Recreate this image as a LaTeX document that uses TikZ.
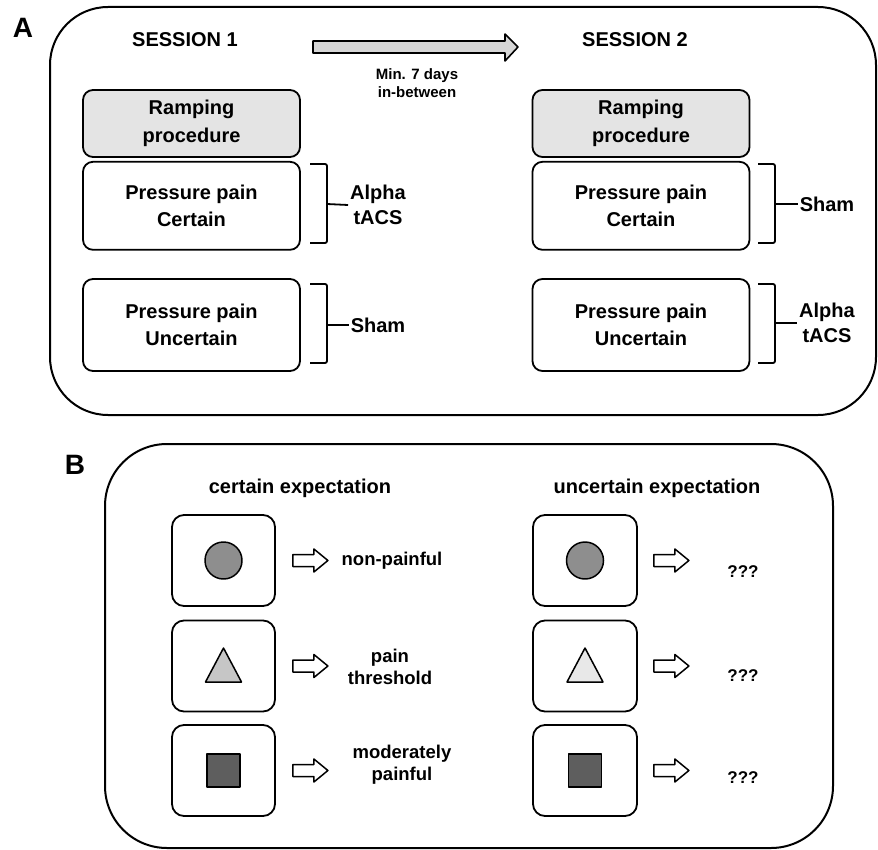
\documentclass[tikz,border=0pt]{standalone}
\usepackage{fontspec}
\setmainfont{Liberation Sans}
\usetikzlibrary{positioning}

\definecolor{rampgray}{HTML}{E4E4E4}
\definecolor{arrowgray}{HTML}{D6D6D6}
\definecolor{circgray}{HTML}{8E8E8E}
\definecolor{trigrayA}{HTML}{C6C6C6}
\definecolor{trigrayB}{HTML}{E8E8E8}
\definecolor{sqgray}{HTML}{5E5E5E}

\begin{document}
\begin{tikzpicture}[x=1pt, y=-1pt, line join=round,
    every node/.style={font=\bfseries},
    panel/.style={draw, line width=2pt, rounded corners=58pt},
    block/.style={draw, line width=1.8pt, rounded corners=10pt, minimum width=217pt,
      align=center, font=\fontsize{20}{27.5}\selectfont\bfseries},
    brk/.style={line width=1.8pt, rounded corners=2pt},
    blab/.style={align=center, inner sep=2pt, font=\fontsize{20}{25}\selectfont\bfseries},
    cue/.style={draw, line width=1.8pt, rounded corners=12pt, minimum width=103pt, minimum height=91pt},
    outc/.style={align=center, font=\fontsize{18.5}{22.5}\selectfont\bfseries},
    wharrow/.pic={\draw[line width=1.5pt, fill=white] (0,-6) -- (21,-6) -- (21,-11.5) -- (35,0)
      -- (21,11.5) -- (21,6) -- (0,6) -- cycle;}]
  \useasboundingbox (0,0) rectangle (878,850);

  % panel A
  \draw[panel] (50,7) rectangle (876,415);
  \node[font=\fontsize{28}{30}\selectfont\bfseries] (labA) at (23,28) {A};
  \node[font=\fontsize{20}{24}\selectfont\bfseries] (s1) at (185,40) {SESSION 1};
  \node[font=\fontsize{20}{24}\selectfont\bfseries] (s2) at (635,40) {SESSION 2};
  \draw[line width=1.6pt, fill=arrowgray] (313,41) -- (505,41) -- (505,34) -- (518,47)
    -- (505,61) -- (505,53) -- (313,53) -- cycle;
  \node[align=center, font=\fontsize{15}{18}\selectfont\bfseries] (gap) at (417,83) {Min. 7 days\\in-between};

  % session 1
  \node[block, fill=rampgray, minimum height=67pt] (ramp1) at (191.5,123.5) {Ramping\\procedure};
  \node[block, minimum height=88pt, below=3pt of ramp1] (cert1) {Pressure pain\\Certain};
  \node[block, minimum height=92pt] (unc1) at (191.5,325) {Pressure pain\\Uncertain};
  % session 2
  \node[block, fill=rampgray, minimum height=67pt] (ramp2) at (641,123.5) {Ramping\\procedure};
  \node[block, minimum height=88pt, below=3pt of ramp2] (cert2) {Pressure pain\\Certain};
  \node[block, minimum height=92pt] (unc2) at (641,325) {Pressure pain\\Uncertain};

  % braces
  \node[blab] (a1) at (378,205) {Alpha\\tACS};
  \node[blab] (sh1) at (378,325) {Sham};
  \node[blab] (sh2) at (827,204) {Sham};
  \node[blab] (a2) at (827,323) {Alpha\\tACS};
  \draw[brk] (310,164) -- (327,164) -- (327,243) -- (310,243);
  \draw[brk] (327,204) -- (a1.west);
  \draw[brk] (310,284) -- (327,284) -- (327,363) -- (310,363);
  \draw[brk] (327,325) -- (sh1.west);
  \draw[brk] (758,164) -- (775,164) -- (775,243) -- (758,243);
  \draw[brk] (775,204) -- (sh2.west);
  \draw[brk] (758,284) -- (775,284) -- (775,363) -- (758,363);
  \draw[brk] (775,323) -- (a2.west);

  % panel B
  \draw[panel, rounded corners=62pt] (105,444) rectangle (833,848);
  \node[font=\fontsize{28}{30}\selectfont\bfseries] (labB) at (75,465) {B};
  \node[font=\fontsize{20}{24}\selectfont\bfseries] (hc) at (300,488) {certain expectation};
  \node[font=\fontsize{20}{24}\selectfont\bfseries] (hu) at (657,488) {uncertain expectation};

  \foreach \n/\y in {1/560.5, 2/666, 3/770.5} {
    \node[cue] (c\n) at (223.5,\y) {};
    \node[cue, minimum width=104pt] (u\n) at (585,\y) {};
    \pic at ([xshift=17pt]c\n.east) {wharrow};
    \pic at ([xshift=16pt]u\n.east) {wharrow};
  }

  % stimuli
  \node[circle, draw, line width=1.5pt, fill=circgray, minimum size=37pt] (circ1) at (c1) {};
  \node[circle, draw, line width=1.5pt, fill=circgray, minimum size=37pt] (circ2) at (u1) {};
  \draw[line width=1.5pt, fill=trigrayA] ([shift={(-18,16)}]c2.center) -- ([shift={(18,16)}]c2.center)
    -- ([shift={(0,-18)}]c2.center) -- cycle;
  \draw[line width=1.5pt, fill=trigrayB] ([shift={(-18,16)}]u2.center) -- ([shift={(18,16)}]u2.center)
    -- ([shift={(0,-18)}]u2.center) -- cycle;
  \node[draw, line width=1.5pt, fill=sqgray, minimum size=33pt] (sq1) at (c3) {};
  \node[draw, line width=1.5pt, fill=sqgray, minimum size=33pt] (sq2) at (u3) {};

  % outcomes
  \node[outc] (o1) at (392,561) {non-painful};
  \node[outc] (o2) at (390,667) {pain\\threshold};
  \node[outc] (o3) at (402,764.5) {moderately\\painful};
  \node[outc, font=\fontsize{17}{20}\selectfont\bfseries] (q1) at (743,572) {???};
  \node[outc, font=\fontsize{17}{20}\selectfont\bfseries] (q2) at (743,676) {???};
  \node[outc, font=\fontsize{17}{20}\selectfont\bfseries] (q3) at (743,778) {???};
\end{tikzpicture}
\end{document}
